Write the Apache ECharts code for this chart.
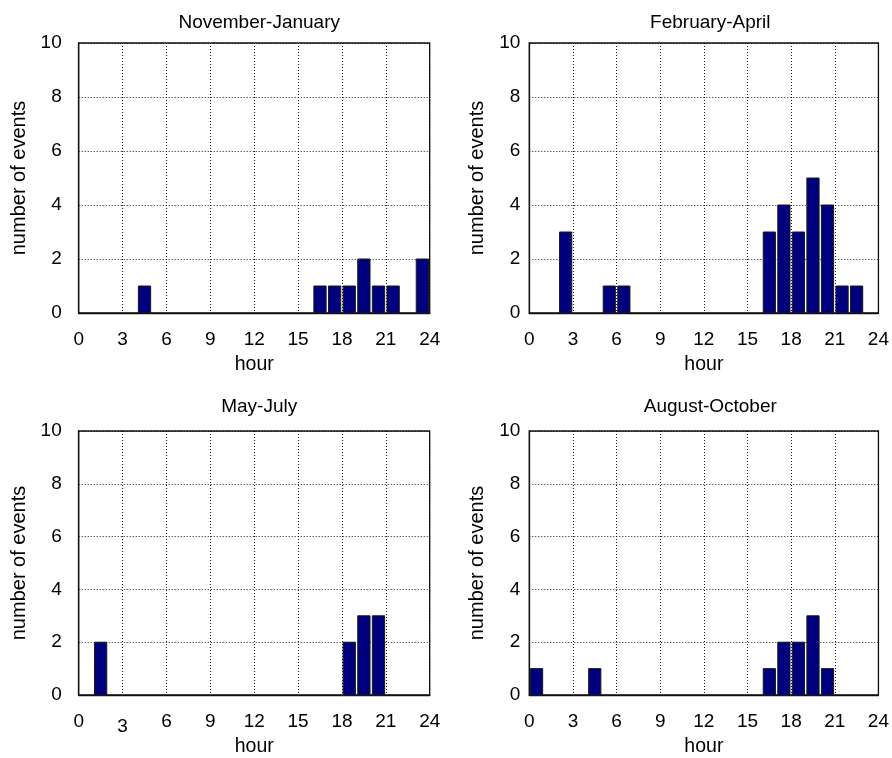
<!DOCTYPE html>
<html>
<head>
<meta charset="utf-8">
<script src="https://cdn.jsdelivr.net/npm/echarts@6/dist/echarts.min.js"></script>
<style>
  html, body { margin: 0; padding: 0; background: #fff; }
  #chart { width: 892px; height: 758px; }
</style>
</head>
<body>
<div id="chart"></div>
<script>
// Hourly event counts (bin h covers hour h..h+1), one array per season
const hours = Array.from({ length: 24 }, (_, h) => h);
const novJan = [0,0,0,0,1,0,0,0,0,0,0,0,0,0,0,0,1,1,1,2,1,1,0,2];
const febApr = [0,0,3,0,0,1,1,0,0,0,0,0,0,0,0,0,3,4,3,5,4,1,1,0];
const mayJul = [0,2,0,0,0,0,0,0,0,0,0,0,0,0,0,0,0,0,2,3,3,0,0,0];
const augOct = [1,0,0,0,1,0,0,0,0,0,0,0,0,0,0,0,1,2,2,3,1,0,0,0];
const titles = ['November-January', 'February-April', 'May-July', 'August-October'];
const xTicks = [0, 3, 6, 9, 12, 15, 18, 21, 24];
const yTicks = [0, 2, 4, 6, 8, 10];

const panels = [novJan, febApr, mayJul, augOct];
const FONT = 'Liberation Sans, Arial, Helvetica, sans-serif';

const grids = [
  { left: 78.7, top: 43, width: 351, height: 270 },
  { left: 529.3, top: 43, width: 352, height: 270 },
  { left: 78.7, top: 431, width: 351, height: 264 },
  { left: 529.3, top: 431, width: 352, height: 264 }
];

const gridLine = { show: true, lineStyle: { color: '#000', type: [1, 2], width: 1, opacity: 0.9 } };

const option = {
  backgroundColor: '#fff',
  animation: false,
  title: titles.map((t, i) => ({
    text: t,
    left: grids[i].left + grids[i].width / 2,
    top: i < 2 ? 8 : 392,
    textAlign: 'center',
    textStyle: { fontFamily: FONT, fontSize: 19, fontWeight: 'normal', color: '#000' }
  })),
  grid: grids.map(g => Object.assign({
    show: true, borderColor: '#111', borderWidth: 1.3, backgroundColor: '#fff'
  }, g)),
  xAxis: grids.map((g, i) => ({
    type: 'value', gridIndex: i, min: 0, max: 24, interval: 3,
    name: 'hour', nameLocation: 'middle', nameGap: 42,
    nameTextStyle: { fontFamily: FONT, fontSize: 19.5, color: '#000' },
    axisLine: { show: true, lineStyle: { color: '#111', width: 1.3 } },
    axisTick: { show: false },
    axisLabel: {
      fontFamily: FONT, fontSize: 19, color: '#000', margin: 17,
      showMinLabel: true, showMaxLabel: true,
      formatter: v => (i === 2 && v === 3) ? '{low|3}' : String(v),
      rich: { low: { fontFamily: FONT, fontSize: 19, color: '#000', padding: [5, 0, 0, 0] } }
    },
    splitLine: gridLine
  })),
  yAxis: grids.map((g, i) => ({
    type: 'value', gridIndex: i, min: 0, max: 10, interval: 2,
    name: 'number of events', nameLocation: 'middle', nameGap: i % 2 === 0 ? 49 : 42,
    nameTextStyle: { fontFamily: FONT, fontSize: 20, color: '#000' },
    axisLine: { show: true, lineStyle: { color: '#111', width: 1.3 } },
    axisTick: { show: false },
    axisLabel: { fontFamily: FONT, fontSize: 19, color: '#000', margin: i % 2 === 0 ? 17 : 9 },
    splitLine: gridLine
  })),
  series: panels.map((vals, i) => ({
    type: 'custom',
    xAxisIndex: i, yAxisIndex: i,
    data: hours.map(h => [h, vals[h]]).filter(d => d[1] > 0),
    renderItem: (params, api) => {
      const h = api.value(0), v = api.value(1);
      const p0 = api.coord([h + 0.08, v]);
      const p1 = api.coord([h + 0.92, 0]);
      return {
        type: 'rect',
        shape: { x: p0[0], y: p0[1], width: p1[0] - p0[0], height: p1[1] - p0[1] },
        style: { fill: '#00007f', stroke: '#1a1a1a', lineWidth: 1 }
      };
    },
    z: 3
  }))
};

const chart = echarts.init(document.getElementById('chart'), null, { renderer: 'canvas' });
chart.setOption(option);
</script>
</body>
</html>
